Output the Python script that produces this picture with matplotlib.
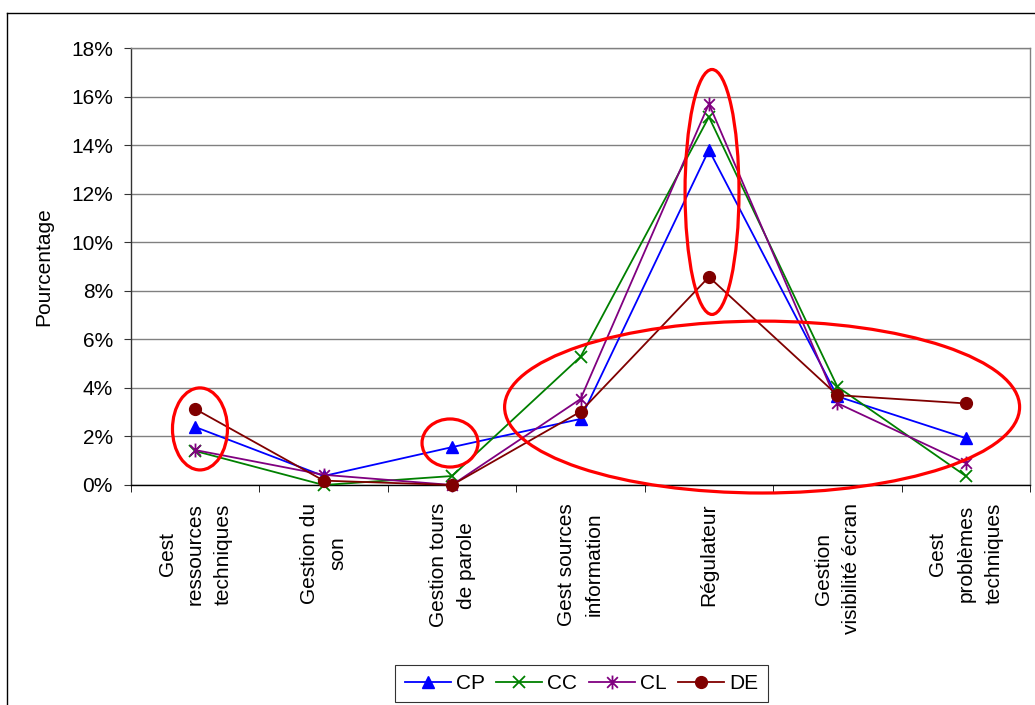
import matplotlib.pyplot as plt
import numpy as np
from matplotlib.patches import Ellipse
from matplotlib.path import Path
from matplotlib.lines import Line2D
from matplotlib.ticker import FuncFormatter, FixedLocator

plt.rcParams['font.family'] = ['Liberation Sans', 'DejaVu Sans']

# données (en %)
categories = ['Gest\nressources\ntechniques', 'Gestion du\nson', 'Gestion tours\nde parole',
              'Gest sources\ninformation', 'Régulateur', 'Gestion\nvisibilité écran',
              'Gest\nproblèmes\ntechniques']
cp = [2.39, 0.37, 1.56, 2.72, 13.8, 3.65, 1.93]
cc = [1.40, 0.0, 0.37, 5.28, 15.16, 4.05, 0.37]
cl = [1.44, 0.42, 0.0, 3.54, 15.7, 3.37, 0.90]
de = [3.13, 0.18, 0.0, 3.02, 8.57, 3.70, 3.36]

# marqueur astérisque (x + barre verticale)
star = Path([(-1, -1), (1, 1), (-1, 1), (1, -1), (0, -1.3), (0, 1.3)],
            [Path.MOVETO, Path.LINETO, Path.MOVETO, Path.LINETO, Path.MOVETO, Path.LINETO])

fig = plt.figure(figsize=(10.35, 7.05), dpi=100)
ax = fig.add_axes([131/1035, 1 - 485/705, 899/1035, 437/705])

x = np.arange(len(categories))
ax.plot(x, cp, color='#0000FF', lw=1.3, marker='^', ms=9, label='CP', clip_on=False, zorder=3)
ax.plot(x, cc, color='#008000', lw=1.3, marker='x', ms=8, mew=1.3, label='CC', clip_on=False, zorder=3)
ax.plot(x, cl, color='#800080', lw=1.3, marker=star, ms=10, mew=1.3, label='CL', clip_on=False, zorder=3)
ax.plot(x, de, color='#800000', lw=1.3, marker='o', ms=8.5, label='DE', clip_on=False, zorder=3)

# ellipses rouges d'annotation
for cx, cy, w, h in [(0.037, 2.31, 0.428, 3.38), (1.984, 1.73, 0.436, 1.98),
                     (4.024, 12.07, 0.42, 10.09), (4.414, 3.21, 4.01, 7.08)]:
    ax.add_patch(Ellipse((cx, cy), w, h, fill=False, edgecolor='#FF0000', lw=2.3,
                         clip_on=False, zorder=4))

ax.set_xlim(-0.5, 6.5)
ax.set_ylim(0, 18)
ax.set_yticks(np.arange(0, 19, 2))
ax.yaxis.set_major_formatter(FuncFormatter(lambda v, p: f'{v:.0f}%'))
ax.grid(True, axis='y', color='#808080', lw=1)
ax.set_axisbelow(True)

ax.set_xticks(x)
ax.set_xticklabels(categories, rotation=90, va='top', ha='center',
                   multialignment='center', linespacing=1.6)
ax.xaxis.set_minor_locator(FixedLocator(np.arange(-0.5, 7, 1)))
ax.tick_params(axis='x', which='major', length=0, pad=13, labelsize=15)
ax.tick_params(axis='x', which='minor', length=5, direction='out', color='black')
ax.tick_params(axis='y', length=5, pad=8, labelsize=15, color='#333333')

for s in ['top', 'right']:
    ax.spines[s].set_color('#808080')
ax.spines['left'].set_color('#333333')
ax.spines['bottom'].set_color('black')
for s in ax.spines.values():
    s.set_linewidth(1)

ax.set_ylabel('Pourcentage', fontsize=15)
ax.yaxis.set_label_coords(-0.087, 0.5)

leg = fig.legend(loc='center', bbox_to_anchor=(581.5/1035, 1 - 683.5/705), ncol=4,
                 fontsize=15, frameon=True, fancybox=False, edgecolor='black',
                 handlelength=2.2, handletextpad=0.25, columnspacing=0.55,
                 borderpad=0.45, borderaxespad=0, markerscale=1.0)
leg.get_frame().set_linewidth(0.8)

# cadre de la figure
fig.add_artist(Line2D([7/1035, 1.0], [1 - 12.7/705] * 2, color='black', lw=1))
fig.add_artist(Line2D([7/1035] * 2, [0, 1 - 12.7/705], color='black', lw=1))

fig.savefig('out.png', dpi=100)
